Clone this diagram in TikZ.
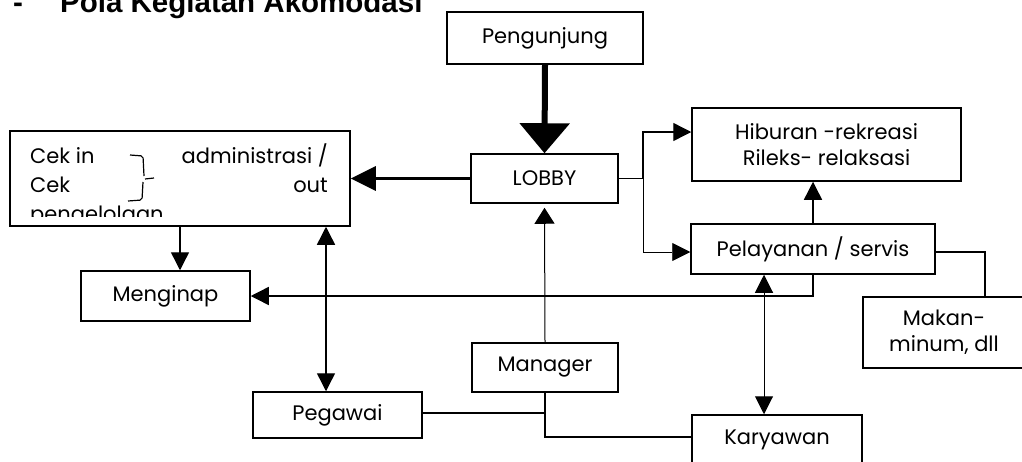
\documentclass[tikz,border=0pt]{standalone}
\usepackage{fontspec}
\setmainfont{Poppins}
\newfontfamily\titlefont{Liberation Sans}
\usetikzlibrary{arrows.meta,calc}
\begin{document}
\begin{tikzpicture}[x=1pt,y=-1pt,
  box/.style={draw,line width=1.5pt,inner sep=0pt,align=center,font=\fontsize{21}{26}\selectfont},
  conn/.style={line width=1.4pt},
  arr/.style={conn,-{Triangle[length=18pt,width=18pt]}},
  darr/.style={conn,{Triangle[length=18pt,width=18pt]}-{Triangle[length=18pt,width=18pt]}},
  txt/.style={inner sep=0pt,font=\fontsize{21}{24}\selectfont},
  head/.style={inner sep=0pt,anchor=base west,font=\titlefont\bfseries\fontsize{29.5}{34}\selectfont}]
\useasboundingbox (0,0) rectangle (1022,461);

% heading
\node[head] (dash) at (13,12) {-};
\node[head] (title) at (60,12) {Pola Kegiatan Akomodasi};

% boxes
\node[box,minimum width=196pt,minimum height=52pt] (peng) at (545,38) {Pengunjung};
\node[box,minimum width=147pt,minimum height=49pt] (lobby) at (544.5,178.5) {LOBBY};
\node[box,minimum width=340pt,minimum height=95pt] (cek) at (180,178.5) {};
\node[box,minimum width=269pt,minimum height=73pt] (hib) at (826.5,144.5) {Hiburan -rekreasi\\Rileks- relaksasi};
\node[box,minimum width=244pt,minimum height=50pt] (pel) at (813,249) {Pelayanan / servis};
\node[box,minimum width=162pt,minimum height=71pt] (makan) at (944,332.5) {Makan-\\minum, dll};
\node[box,minimum width=169pt,minimum height=50pt] (meng) at (165.5,296) {Menginap};
\node[box,minimum width=169pt,minimum height=46pt] (peg) at (337.5,415) {Pegawai};
\node[box,minimum width=146pt,minimum height=49pt] (man) at (545,367.5) {Manager};
\node[box,minimum width=170pt,minimum height=50pt] (kar) at (777,440) {Karyawan};

% contents of the check-in box
\node[txt,anchor=base west] (cin) at (30,163) {Cek in};
\node[txt,anchor=base west] (cout) at (30,192) {Cek};
\node[txt,anchor=base east] (adm) at (328,163) {administrasi /};
\node[txt,anchor=base east] (out) at (328,192) {out};
\begin{scope}
  \clip (12,200) rectangle (348,216);
  \node[txt,anchor=base west] (peng2) at (30,221) {pengelolaan};
\end{scope}
\draw[line width=1.2pt,rounded corners=2pt]
  (130,155) -- (143,156) -- (144,176) (145,179) -- (154,178)
  (143,182) -- (142,200) -- (128,201);

% connectors
\draw[line width=6pt,-{Triangle[length=30pt,width=49pt]}] (peng.south) -- (lobby.north);
\draw[line width=3.5pt,-{Triangle[length=25pt,width=24pt]}] (lobby.west) -- (cek.east);
\coordinate (fork) at (643,178.5);
\draw[conn] (lobby.east) -- (fork);
\draw[arr] (fork) |- ([yshift=12.5pt]hib.west);
\draw[line width=0.8pt,-{Triangle[length=18pt,width=18pt]}] (fork) |- ([yshift=-3pt]pel.west);
\draw[arr] (pel.north) -- (pel.north |- hib.south);
\draw[conn] ([yshift=-3pt]pel.east) -| ([xshift=41pt]makan.north);
\draw[arr] (pel.south) |- (meng.east);
\draw[arr] (cek.south) -- (cek.south |- meng.north);
\draw[darr] ([xshift=-11.5pt]peg.north) -- ([xshift=-11.5pt]peg.north |- cek.south);
\draw[line width=1pt,-{Triangle[length=16pt,width=20pt]}] (man.north) -- ([yshift=-4pt]lobby.south);
\draw[conn] ([yshift=2pt]peg.east) -- ([yshift=2pt]peg.east -| man.south);
\draw[conn] (man.south) |- ([yshift=3pt]kar.west);
\draw[line width=1pt,{Triangle[length=18pt,width=18pt]}-{Triangle[length=18pt,width=18pt]}] ([xshift=-13pt]kar.north) -- ([xshift=-13pt]kar.north |- pel.south);
\end{tikzpicture}
\end{document}
